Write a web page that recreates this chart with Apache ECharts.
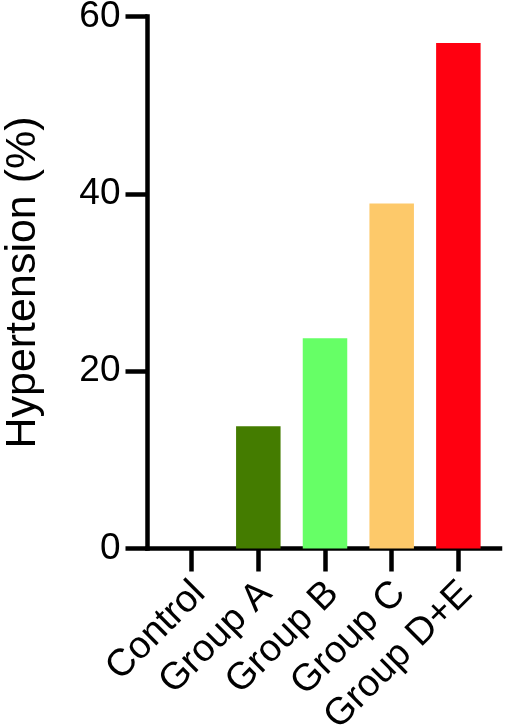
<!DOCTYPE html>
<html>
<head>
<meta charset="utf-8">
<script src="https://cdn.jsdelivr.net/npm/echarts@6/dist/echarts.min.js"></script>
<style>
html,body{margin:0;padding:0;background:#fff;}
#chart{width:505px;height:725px;}
</style>
</head>
<body>
<div id="chart"></div>
<script>
var categories = ['Control', 'Group A', 'Group B', 'Group C', 'Group D+E'];
var values = [0, 13.8, 23.7, 38.9, 57.0];
var barColors = ['#000000', '#447C00', '#66FF66', '#FDC96A', '#FF0010'];
var yTicks = [0, 20, 40, 60];
var yTitle = 'Hypertension (%)';

var FONT = '"Liberation Sans", Arial, Helvetica, sans-serif';
var chart = echarts.init(document.getElementById('chart'), null, {renderer: 'canvas'});

var option = {
  animation: false,
  backgroundColor: '#ffffff',
  grid: [
    {left: 158.3, right: 13.3, top: 16.5, bottom: 176.5, containLabel: false, outerBoundsMode: 'none'},
    {left: 147.5, right: 5, top: 16.5, bottom: 176.5, containLabel: false, outerBoundsMode: 'none'}
  ],
  xAxis: [
    {
      gridIndex: 0,
      type: 'category',
      data: categories,
      axisLine: {show: false},
      axisTick: {show: true, alignWithLabel: true, length: 23, lineStyle: {color: '#000', width: 4.5}},
      axisLabel: {rotate: 45, fontSize: 38, color: '#000', fontFamily: FONT, margin: 20,
                  interval: 0, verticalAlign: 'top', align: 'right', padding: [0, 8, 0, 0]},
      splitLine: {show: false}
    },
    {
      gridIndex: 1,
      type: 'value',
      min: 0, max: 1,
      axisLine: {show: true, lineStyle: {color: '#000', width: 4.5, cap: 'square'}},
      axisTick: {show: false},
      axisLabel: {show: false},
      splitLine: {show: false}
    }
  ],
  yAxis: [
    {
      gridIndex: 0,
      type: 'value',
      min: yTicks[0], max: yTicks[yTicks.length - 1],
      show: false
    },
    {
      gridIndex: 1,
      type: 'value',
      min: yTicks[0], max: yTicks[yTicks.length - 1], interval: 20,
      name: yTitle,
      nameLocation: 'middle',
      nameGap: 103,
      nameTextStyle: {fontSize: 43, color: '#000', fontFamily: FONT},
      axisLine: {show: true, lineStyle: {color: '#000', width: 4.5, cap: 'square'}},
      axisTick: {show: true, length: 22, lineStyle: {color: '#000', width: 4.5}},
      axisLabel: {fontSize: 37, color: '#000', fontFamily: FONT, margin: 27},
      splitLine: {show: false}
    }
  ],
  series: [
    {
      type: 'bar',
      xAxisIndex: 0,
      yAxisIndex: 0,
      barWidth: 44.5,
      data: values.map(function (v, i) {
        return {value: v, itemStyle: {color: barColors[i]}};
      }),
      z: 1
    }
  ]
};
chart.setOption(option);
</script>
</body>
</html>
